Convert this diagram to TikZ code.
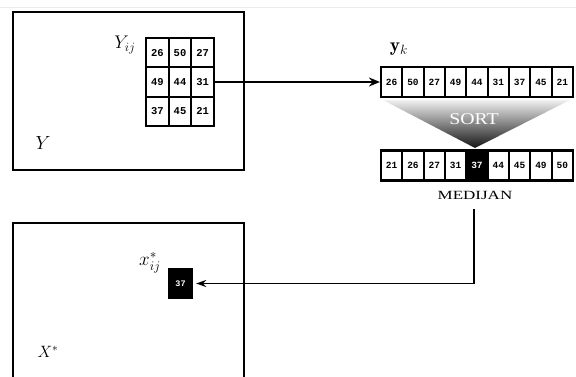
\documentclass[tikz,border=0pt]{standalone}
\usepackage{fontspec}
\newfontfamily\numfont{Liberation Mono}
\newfontfamily\capfont{Liberation Serif}
\usetikzlibrary{arrows.meta}
\tikzset{
  frame/.style={line width=1.5pt},
  gcell/.style={draw, line width=2.2pt, minimum width=22.67pt, minimum height=29.3pt, inner sep=0pt, font=\numfont\bfseries\fontsize{10.5}{10.5}\selectfont},
  acell/.style={draw, line width=2.1pt, minimum width=21.33pt, minimum height=30pt, inner sep=0pt, font=\numfont\bfseries\fontsize{9.5}{9.5}\selectfont},
  mcell/.style={acell, fill=black, text=white},
  lbl/.style={inner sep=0pt, font=\LARGE},
}
\begin{document}
\begin{tikzpicture}[x=1pt,y=-1pt]
\useasboundingbox (0,0) rectangle (576,377);
\draw[black!7, line width=0.8pt] (0,7) -- (576,7);
% top image box
\node[draw, frame, minimum width=231pt, minimum height=158pt, inner sep=0pt] (Ybox) at (128.5,91) {};
% bottom image box (cut by lower edge)
\draw[frame] (13,377) -- (13,223) -- (244,223) -- (244,377);
% 3x3 window
\foreach \r/\a/\b/\c [count=\j] in {52.7/26/50/27, 82/49/44/31, 111.3/37/45/21}{
  \node[gcell] (g\j1) at (157.3,\r) {\a};
  \node[gcell] (g\j2) at (180,\r) {\b};
  \node[gcell] (g\j3) at (202.7,\r) {\c};
}
\node[lbl] (lYij) at (125,45) {\scalebox{1.06}{$Y_{ij}$}};
\node[lbl] (lY) at (43,143) {\scalebox{1.1}{$Y$}};
% vector y_k
\foreach \v [count=\i] in {26,50,27,49,44,31,37,45,21}{
  \node[acell] (t\i) at ({381+21.33*(\i-0.5)},82) {\v};
}
\node[lbl] (lyk) at (399,49) {\scalebox{1.12}{$\mathbf{y}_k$}};
% sort funnel
\shade[top color=black!6, bottom color=black!92] (383,100) -- (570,100) -- (475,148) -- cycle;
\node[inner sep=0pt, text=white, font=\capfont\fontsize{16.5}{16.5}\selectfont] (sort) at (474,119) {\scalebox{1.2}[1]{SORT}};
% sorted vector
\foreach \v [count=\i] in {21,26,27,31,37,44,45,49,50}{
  \ifnum\i=5
    \node[mcell] (s\i) at ({381+21.33*(\i-0.5)},165.5) {\v};
  \else
    \node[acell] (s\i) at ({381+21.33*(\i-0.5)},165.5) {\v};
  \fi
}
\node[inner sep=0pt, font=\capfont\fontsize{12.5}{12.5}\selectfont] (med) at (475,195) {\scalebox{1.36}[1]{MEDIJAN}};
% output pixel
\node[fill=black, text=white, minimum width=25pt, minimum height=31pt, inner sep=0pt, font=\numfont\bfseries\fontsize{8.5}{8.5}\selectfont] (x37) at (180.5,283.5) {37};
\node[lbl] (lxij) at (150,263) {\scalebox{1.1}{$x^{*}_{ij}$}};
\node[lbl] (lX) at (48,352) {\scalebox{0.95}{$X^{*}$}};
\coordinate (mtop) at (474,209);
% connectors
\draw[line width=2.7pt, -{Stealth[length=11pt,width=9pt]}] (g23.east) -- (t1.west);
\draw[line width=1.5pt, -{Stealth[length=10pt,width=7pt]}, shorten >=3pt] (mtop) -- (mtop |- x37.east) -- (x37.east);
\end{tikzpicture}
\end{document}
